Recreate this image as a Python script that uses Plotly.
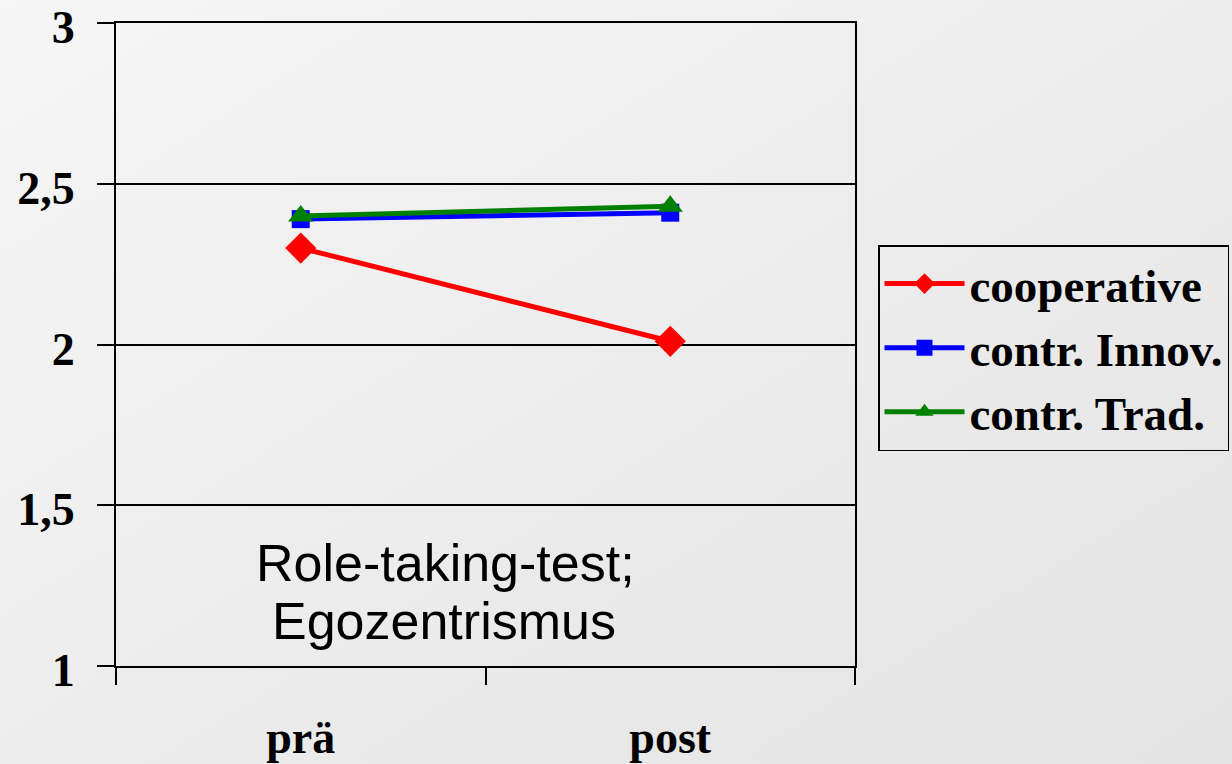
import base64
import plotly.graph_objects as go

categories = ["prä", "post"]
cooperative = [2.30, 2.01]
contr_innov = [2.39, 2.41]
contr_trad = [2.40, 2.43]
y_ticks = [1, 1.5, 2, 2.5, 3]
y_tick_labels = ["1", "1,5", "2", "2,5", "3"]

W, H = 1232, 764
L, R, T, B = 116, 377, 23, 98
pw, ph = W - L - R, H - T - B

svg = (f'<svg xmlns="http://www.w3.org/2000/svg" width="{W}" height="{H}">'
       '<defs><linearGradient id="g" x1="0" y1="0" x2="1" y2="1">'
       '<stop offset="0" stop-color="#f6f6f6"/><stop offset="1" stop-color="#e3e3e3"/>'
       '</linearGradient></defs><rect width="100%" height="100%" fill="url(#g)"/></svg>')
bg_src = "data:image/svg+xml;base64," + base64.b64encode(svg.encode()).decode()

fig = go.Figure()
series = [
    ("cooperative", cooperative, "#ff0000", "diamond", 24),
    ("contr. Innov.", contr_innov, "#0000ff", "square", 18),
    ("contr. Trad.", contr_trad, "#008000", "triangle-up", 22),
]
for name, vals, col, sym, sz in series:
    fig.add_trace(go.Scatter(
        x=categories, y=vals, name=name, mode="lines+markers",
        line=dict(color=col, width=5),
        marker=dict(symbol=sym, size=sz, color=col),
    ))


def ypx(py):
    return 3 - (py - T) / (ph / 2)


def xidx(px):
    return (px - 302) / 370


fig.update_layout(
    width=W, height=H,
    margin=dict(l=L, r=R, t=T, b=B, autoexpand=False),
    paper_bgcolor="#ececec",
    plot_bgcolor="rgba(0,0,0,0)",
    showlegend=True,
    legend=dict(
        x=(878 - L) / pw, y=(H - B - 245) / ph, xanchor="left", yanchor="top",
        bgcolor="rgba(0,0,0,0)", bordercolor="black", borderwidth=1.5,
        font=dict(family="Liberation Serif", size=47, color="black", weight="bold"),
        tracegroupgap=0, itemwidth=80,
    ),
    images=[dict(source=bg_src, xref="paper", yref="paper",
                 x=-L / pw, y=1 + T / ph, sizex=W / pw, sizey=H / ph,
                 xanchor="left", yanchor="top", sizing="stretch", layer="below")],
    annotations=[
        dict(text="Role-taking-test;", x=xidx(447), y=ypx(563),
             xref="x", yref="y", showarrow=False,
             font=dict(family="Liberation Sans", size=52, color="black")),
        dict(text="Egozentrismus", x=xidx(445), y=ypx(621),
             xref="x", yref="y", showarrow=False,
             font=dict(family="Liberation Sans", size=52, color="black")),
    ],
)
fig.update_xaxes(
    type="category", range=[-0.5, 1.5], tickson="boundaries",
    ticks="outside", ticklen=17, tickwidth=2, tickcolor="black",
    showline=True, linecolor="black", linewidth=2, mirror=True,
    showgrid=False, ticklabelstandoff=30, automargin=False,
    ticklabeloverflow="allow",
    tickfont=dict(family="Liberation Serif", size=46, color="black", weight="bold"),
)
fig.update_yaxes(
    range=[1, 3], tickvals=y_ticks, ticktext=y_tick_labels,
    ticks="outside", ticklen=17, tickwidth=2, tickcolor="black",
    showline=True, linecolor="black", linewidth=2, mirror=True,
    showgrid=True, gridcolor="black", gridwidth=2, zeroline=False,
    ticklabelstandoff=13, ticklabelshift=4, automargin=False,
    ticklabeloverflow="allow",
    tickfont=dict(family="Liberation Serif", size=46, color="black", weight="bold"),
)
fig.write_html(
    "out.html",
    config={"displayModeBar": False},
    post_script="document.body.style.margin='0';document.body.style.overflow='hidden';",
)
